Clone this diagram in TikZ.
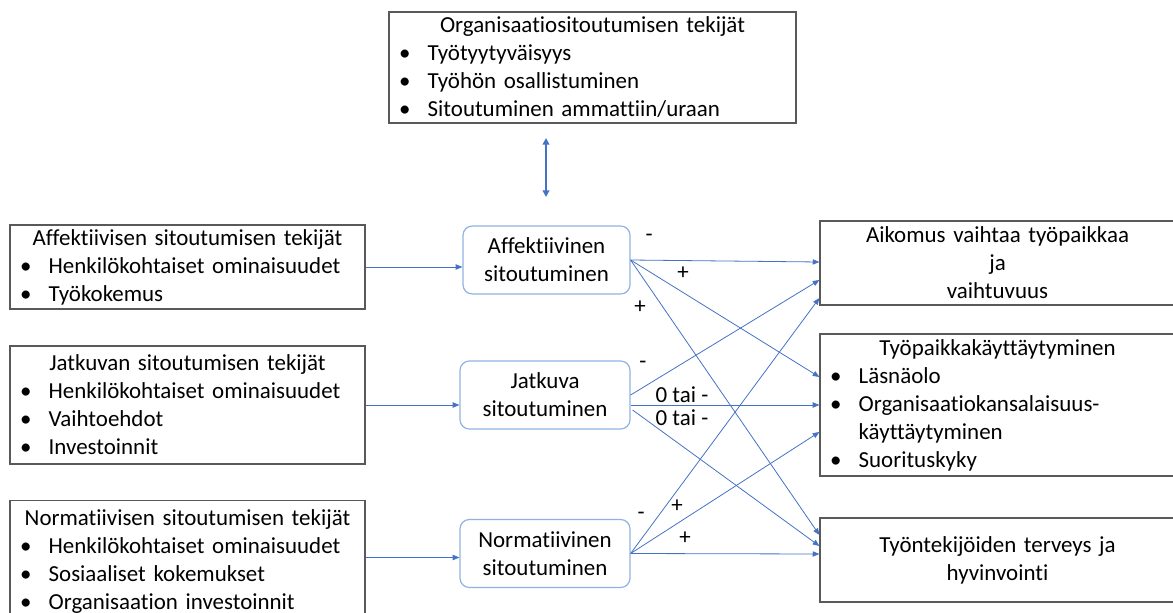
\documentclass[tikz,border=0pt]{standalone}
\usepackage{fontspec}
\setmainfont{Carlito}[Ligatures=NoCommon]
\usetikzlibrary{arrows.meta,calc}
\definecolor{arrblue}{RGB}{68,114,196}
\definecolor{boxblue}{RGB}{143,178,226}
\definecolor{boxgray}{RGB}{89,89,89}
\newcommand\blt[1]{\makebox[\hsize][l]{\hspace*{7.5pt}\makebox[21.5pt][l]{\textbullet}#1}}
\tikzset{
  factor/.style={draw=boxgray,line width=0.9pt,inner sep=0pt,align=center},
  commit/.style={draw=boxblue,line width=0.9pt,rounded corners=7pt,inner sep=0pt,align=center,minimum height=51pt},
  link/.style={arrblue,line width=0.6pt,-{Triangle[length=5pt,width=4pt]}},
  both/.style={arrblue,line width=1.3pt,{Triangle[length=5pt,width=5pt]}-{Triangle[length=5pt,width=5pt]}},
  sign/.style={inner sep=1pt}
}
\begin{document}
\begin{tikzpicture}[x=0.75pt,y=-0.75pt,font=\fontsize{17.2pt}{21pt}\selectfont]
  \clip (0,0) rectangle (1173,613);
  % tekijat
  \node[factor,text width=305.25pt,minimum height=83.25pt] (org) at (592.5,67.5)
    {Organisaatiositoutumisen tekijät\\ \blt{Työtyytyväisyys}\\ \blt{Työhön osallistuminen}\\ \blt{Sitoutuminen ammattiin/uraan}};
  \node[factor,text width=266.25pt,minimum height=63pt] (faff) at (187.5,267)
    {Affektiivisen sitoutumisen tekijät\\ \blt{Henkilökohtaiset ominaisuudet}\\ \blt{Työkokemus}};
  \node[factor,text width=266.25pt,minimum height=88.5pt] (fjat) at (187.5,405)
    {Jatkuvan sitoutumisen tekijät\\ \blt{Henkilökohtaiset ominaisuudet}\\ \blt{Vaihtoehdot}\\ \blt{Investoinnit}};
  \node[factor,text width=266.25pt,minimum height=92pt] (fnorm) at (187.5,561.5)
    {Normatiivisen sitoutumisen tekijät\\ \blt{Henkilökohtaiset ominaisuudet}\\ \blt{Sosiaaliset kokemukset}\\ \blt{Organisaation investoinnit}};
  % sitoutuminen
  \node[commit,text width=125.25pt] (maff) at (546.5,260) {Affektiivinen\\ sitoutuminen};
  \node[commit,text width=127.5pt] (mjat) at (545,395) {Jatkuva\\ sitoutuminen};
  \node[commit,text width=127.5pt] (mnorm) at (545,553.5) {Normatiivinen\\ sitoutuminen};
  % seuraukset
  \node[factor,text width=266.25pt,minimum height=63pt] (b1) at (997.5,263)
    {Aikomus vaihtaa työpaikkaa\\ ja\\ vaihtuvuus};
  \node[factor,text width=266.25pt,minimum height=106.5pt] (b2) at (997.5,405)
    {Työpaikkakäyttäytyminen\\ \blt{Läsnäolo}\\ \blt{Organisaatiokansalaisuus-}\\ \makebox[\hsize][l]{\hspace*{29pt}käyttäytyminen}\\ \blt{Suorituskyky}};
  \node[factor,text width=266.25pt,minimum height=63pt] (b3) at (997.5,560)
    {Työntekijöiden terveys ja\\ hyvinvointi};
  % nuolet
  \coordinate (up) at (546,138);
  \coordinate (dn) at (546,197);
  \draw[both] (up) -- (dn);
  \draw[link] (faff.east) -- (faff.east -| maff.west);
  \draw[link] (fjat.east) -- (fjat.east -| mjat.west);
  \draw[link] ($(fnorm.east)+(0,-4)$) -- ($(fnorm.east -| mnorm.west)+(0,-4)$);
  \draw[link] (maff.east) -- ($(b1.west)+(0,-1)$);
  \draw[link] (maff.east) -- ($(b2.west)+(0,-28)$);
  \draw[link] (maff.east) -- ($(b3.west)+(0,-25)$);
  \draw[link] (mjat.east) -- ($(b1.west)+(0,17)$);
  \draw[link] ($(mjat.east)+(0,10)$) -- (b2.west);
  \draw[link] ($(mjat.east)+(2,15)$) -- ($(b3.west)+(0,-14)$);
  \draw[link] (mnorm.east) -- ($(b1.west)+(0,35)$);
  \draw[link] (mnorm.east) -- ($(b2.west)+(0,27)$);
  \draw[link] (mnorm.east) -- ($(b3.west)+(0,-6)$);
  % merkit
  \node[sign] (s1) at (649,238) {-};
  \node[sign] (s2) at (683,273) {+};
  \node[sign] (s3) at (640,307) {+};
  \node[sign] (s4) at (643,365) {-};
  \node[sign] (s5) at (682,395) {0 tai -};
  \node[sign] (s6) at (682,418) {0 tai -};
  \node[sign] (s7) at (641,516) {-};
  \node[sign] (s8) at (677,506) {+};
  \node[sign] (s9) at (685,538) {+};
\end{tikzpicture}
\end{document}
